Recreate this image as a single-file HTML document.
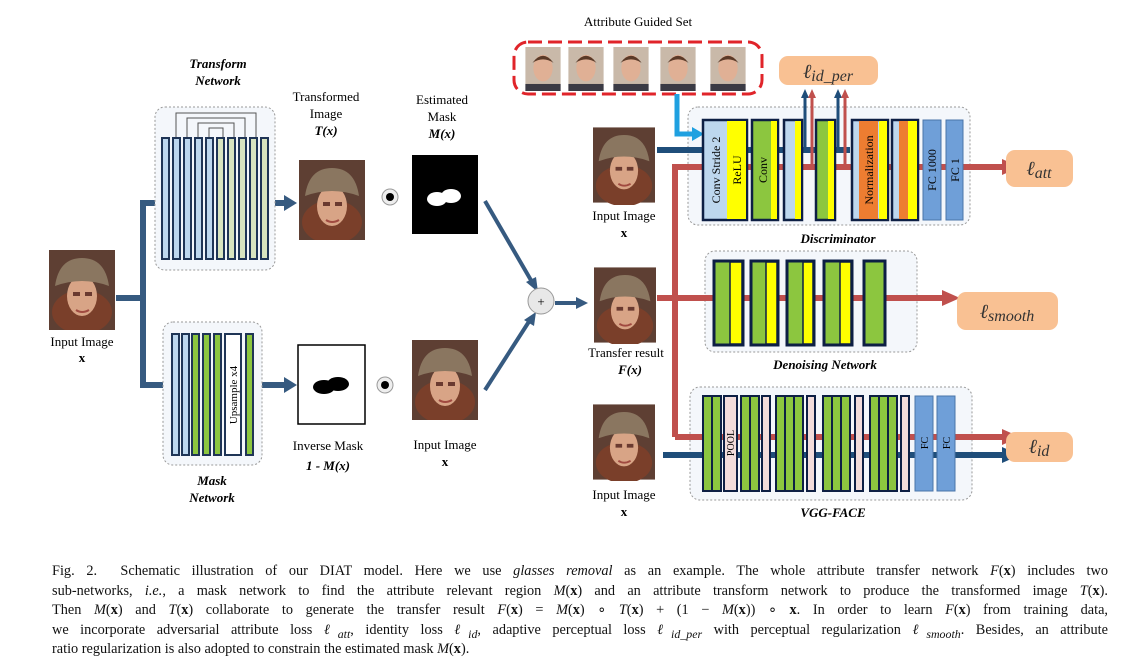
<!DOCTYPE html>
<html><head><meta charset="utf-8"><style>
body{margin:0;background:#fff;width:1142px;height:666px;overflow:hidden;font-family:"Liberation Serif",serif;}
.cap{position:absolute;left:52px;width:1056px;font-size:14.3px;color:#111;text-align:justify;text-align-last:justify;white-space:nowrap;}
.cap.last{text-align-last:left;}
svg text{font-family:"Liberation Serif",serif;}
</style></head><body>
<svg width="1142" height="560" style="position:absolute;left:0;top:0" xmlns="http://www.w3.org/2000/svg">
<defs>
<symbol id="face" viewBox="0 0 66 80">
<rect width="66" height="80" fill="#5e3f33"/>
<ellipse cx="33" cy="62" rx="30" ry="22" fill="#7a3f2a"/>
<ellipse cx="33" cy="46" rx="15" ry="20" fill="#d8a486"/>
<path d="M6 36 Q10 8 33 8 Q56 8 60 36 Q33 26 6 36Z" fill="#8a7660"/>
<rect x="24" y="42" width="7" height="4" fill="#6a3a30"/><rect x="36" y="42" width="7" height="4" fill="#6a3a30"/>
<path d="M27 60 Q33 64 40 60" stroke="#a04a40" stroke-width="2" fill="none"/>
</symbol>
<symbol id="p" viewBox="0 0 40 50">
<rect width="40" height="50" fill="#c9b9a9"/>
<ellipse cx="20" cy="24" rx="11" ry="15" fill="#e0b095"/>
<path d="M8 18 Q20 2 32 18 Q20 10 8 18Z" fill="#5a3a28"/>
<rect x="0" y="42" width="40" height="8" fill="#3a3a44"/>
</symbol>
<marker id="ab" markerWidth="4" markerHeight="4" refX="2" refY="2" orient="auto" markerUnits="strokeWidth"><path d="M0,0 L4,2 L0,4Z" fill="#365a80"/></marker>
</defs>

<!-- left input -->
<use href="#face" x="48" y="250" width="68" height="80"/>
<text x="82" y="346" font-size="13" text-anchor="middle">Input Image</text>
<text x="82" y="362" font-size="13" font-weight="bold" text-anchor="middle">x</text>

<!-- trunk -->
<g stroke="#365a80" stroke-width="6" fill="none">
<path d="M116 298 H143 M143 200 V388 M143 203 H285 M143 385 H285"/>
</g>
<path d="M284 195 L297 203 L284 211Z" fill="#365a80"/>
<path d="M284 377 L297 385 L284 393Z" fill="#365a80"/>

<!-- transform network -->
<text x="218" y="68" font-size="13" font-weight="bold" font-style="italic" text-anchor="middle">Transform</text>
<text x="218" y="85" font-size="13" font-weight="bold" font-style="italic" text-anchor="middle">Network</text>
<rect x="155" y="107" width="120" height="163" rx="10" fill="#f4f7fb" stroke="#999" stroke-dasharray="2,2"/>
<g stroke="#555" fill="none" stroke-width="1">
<path d="M176 138 V113 H256 V138 M187 138 V118 H245 V138 M198 138 V123 H234 V138 M209 138 V128 H223 V138"/>
</g>
<g stroke="#1f3556" stroke-width="2">
<rect x="162" y="138" width="7" height="121" fill="#bdd7ee"/>
<rect x="173" y="138" width="7" height="121" fill="#bdd7ee"/>
<rect x="184" y="138" width="7" height="121" fill="#bdd7ee"/>
<rect x="195" y="138" width="7" height="121" fill="#bdd7ee"/>
<rect x="206" y="138" width="7" height="121" fill="#bdd7ee"/>
<rect x="217" y="138" width="7" height="121" fill="#d8e4bf"/>
<rect x="228" y="138" width="7" height="121" fill="#d8e4bf"/>
<rect x="239" y="138" width="7" height="121" fill="#d8e4bf"/>
<rect x="250" y="138" width="7" height="121" fill="#d8e4bf"/>
<rect x="261" y="138" width="7" height="121" fill="#d8e4bf"/>
</g>

<!-- mask network -->
<rect x="163" y="322" width="99" height="143" rx="10" fill="#f4f7fb" stroke="#999" stroke-dasharray="2,2"/>
<g stroke="#1f3556" stroke-width="2">
<rect x="172" y="334" width="7" height="121" fill="#bdd7ee"/>
<rect x="182" y="334" width="7" height="121" fill="#bdd7ee"/>
<rect x="192" y="334" width="7" height="121" fill="#8cc63f"/>
<rect x="203" y="334" width="7" height="121" fill="#8cc63f"/>
<rect x="214" y="334" width="7" height="121" fill="#8cc63f"/>
<rect x="225" y="334" width="16" height="121" fill="#fff"/>
<rect x="246" y="334" width="7" height="121" fill="#8cc63f"/>
</g>
<text transform="translate(237,395) rotate(-90)" font-size="11" text-anchor="middle">Upsample x4</text>
<text x="212" y="485" font-size="13" font-weight="bold" font-style="italic" text-anchor="middle">Mask</text>
<text x="212" y="502" font-size="13" font-weight="bold" font-style="italic" text-anchor="middle">Network</text>

<!-- transformed image -->
<text x="326" y="101" font-size="13" text-anchor="middle">Transformed</text>
<text x="326" y="118" font-size="13" text-anchor="middle">Image</text>
<text x="326" y="135" font-size="13" font-weight="bold" font-style="italic" text-anchor="middle">T(x)</text>
<use href="#face" x="298" y="160" width="68" height="80"/>
<circle cx="390" cy="197" r="8" fill="#eee" stroke="#999"/><circle cx="390" cy="197" r="4" fill="#000"/>
<text x="442" y="104" font-size="13" text-anchor="middle">Estimated</text>
<text x="442" y="121" font-size="13" text-anchor="middle">Mask</text>
<text x="442" y="138" font-size="13" font-weight="bold" font-style="italic" text-anchor="middle">M(x)</text>
<rect x="412" y="155" width="66" height="79" fill="#000"/>
<ellipse cx="437" cy="199" rx="10" ry="7" fill="#fff"/><ellipse cx="451" cy="196" rx="10" ry="7" fill="#fff"/>

<!-- inverse mask -->
<rect x="298" y="345" width="67" height="79" fill="#fff" stroke="#000" stroke-width="1.5"/>
<ellipse cx="324" cy="387" rx="11" ry="7" fill="#000"/><ellipse cx="338" cy="384" rx="11" ry="7" fill="#000"/>
<text x="328" y="450" font-size="13" text-anchor="middle">Inverse Mask</text>
<text x="328" y="470" font-size="13" font-weight="bold" font-style="italic" text-anchor="middle">1 - M(x)</text>
<circle cx="385" cy="385" r="8" fill="#eee" stroke="#999"/><circle cx="385" cy="385" r="4" fill="#000"/>
<use href="#face" x="412" y="340" width="66" height="80"/>
<text x="445" y="449" font-size="13" text-anchor="middle">Input Image</text>
<text x="445" y="466" font-size="13" font-weight="bold" text-anchor="middle">x</text>

<!-- to plus -->
<g stroke="#365a80" stroke-width="4">
<line x1="485" y1="201" x2="532" y2="282"/>
<line x1="485" y1="390" x2="530" y2="320"/>
<line x1="555" y1="303" x2="578" y2="303"/>
</g>
<path d="M526 282 L538 292 L536 277Z" fill="#365a80"/>
<path d="M524 320 L536 312 L534 326Z" fill="#365a80"/>
<path d="M576 297 L588 303 L576 309Z" fill="#365a80"/>
<circle cx="541" cy="301" r="13" fill="#e8e8e8" stroke="#999"/>
<text x="541" y="306" font-size="13" text-anchor="middle">+</text>

<!-- right column images -->
<use href="#face" x="593" y="125" width="62" height="80"/>
<text x="624" y="220" font-size="13" text-anchor="middle">Input Image</text>
<text x="624" y="237" font-size="13" font-weight="bold" text-anchor="middle">x</text>
<use href="#face" x="594" y="266" width="62" height="78"/>
<text x="626" y="357" font-size="13" text-anchor="middle">Transfer result</text>
<text x="630" y="374" font-size="13" font-weight="bold" font-style="italic" text-anchor="middle">F(x)</text>
<use href="#face" x="593" y="403" width="62" height="78"/>
<text x="624" y="499" font-size="13" text-anchor="middle">Input Image</text>
<text x="624" y="516" font-size="13" font-weight="bold" text-anchor="middle">x</text>

<!-- attribute guided set -->
<text x="638" y="26" font-size="13" text-anchor="middle">Attribute Guided Set</text>
<rect x="514" y="42" width="248" height="52" rx="14" fill="#fff" stroke="#e0242a" stroke-width="3" stroke-dasharray="14,6"/>
<use href="#p" x="520" y="47" width="46" height="44"/>
<use href="#p" x="567" y="47" width="38" height="44"/>
<use href="#p" x="612" y="47" width="38" height="44"/>
<use href="#p" x="657" y="47" width="42" height="44"/>
<use href="#p" x="706" y="47" width="44" height="44"/>

<!-- boxes -->
<rect x="688" y="107" width="282" height="118" rx="10" fill="#f4f7fb" stroke="#999" stroke-dasharray="2,2"/>
<rect x="705" y="251" width="212" height="101" rx="10" fill="#f4f7fb" stroke="#999" stroke-dasharray="2,2"/>
<rect x="690" y="387" width="282" height="113" rx="10" fill="#f4f7fb" stroke="#999" stroke-dasharray="2,2"/>

<!-- lines behind blocks -->
<g stroke-width="6" fill="none">
<path d="M657 150 H850" stroke="#1f4e7a"/>
<path d="M675 437 V167 H1005" stroke="#c0504d"/>
<path d="M657 298 H945" stroke="#c0504d"/>
<path d="M675 437 H1005" stroke="#c0504d"/>
<path d="M663 455 H1005" stroke="#1f4e7a"/>
</g>
<path d="M1002 159 L1020 167 L1002 175Z" fill="#c0504d"/>
<path d="M942 290 L960 298 L942 306Z" fill="#c0504d"/>
<path d="M1002 429 L1020 437 L1002 445Z" fill="#c0504d"/>
<path d="M1002 447 L1020 455 L1002 463Z" fill="#1f4e7a"/>
<!-- cyan arrow -->
<path d="M677 94 V134 H693" stroke="#1fa0e0" stroke-width="5" fill="none"/>
<path d="M692 127 L704 134 L692 141Z" fill="#1fa0e0"/>
<!-- up arrows -->
<g stroke-width="3">
<line x1="805" y1="150" x2="805" y2="96" stroke="#1f4e7a"/>
<line x1="812" y1="167" x2="812" y2="96" stroke="#c0504d"/>
<line x1="838" y1="150" x2="838" y2="96" stroke="#1f4e7a"/>
<line x1="845" y1="167" x2="845" y2="96" stroke="#c0504d"/>
</g>
<path d="M801 98 L805 89 L809 98Z M834 98 L838 89 L842 98Z" fill="#1f4e7a"/>
<path d="M808 98 L812 89 L816 98Z M841 98 L845 89 L849 98Z" fill="#c0504d"/>

<!-- discriminator blocks -->
<g stroke="#0d1f44" stroke-width="2.5">
<rect x="703" y="120" width="44" height="100" fill="#bdd7ee"/>
<rect x="727" y="121" width="19" height="98" fill="#ffff00" stroke="none"/>
<rect x="752" y="120" width="26" height="100" fill="#8cc63f"/>
<rect x="771" y="121" width="6" height="98" fill="#ffff00" stroke="none"/>
<rect x="784" y="120" width="18" height="100" fill="#bdd7ee"/>
<rect x="795" y="121" width="6" height="98" fill="#ffff00" stroke="none"/>
<rect x="816" y="120" width="19" height="100" fill="#8cc63f"/>
<rect x="828" y="121" width="6" height="98" fill="#ffff00" stroke="none"/>
<rect x="852" y="120" width="36" height="100" fill="#bdd7ee"/>
<rect x="859" y="121" width="19" height="98" fill="#ed7d31" stroke="none"/>
<rect x="879" y="121" width="8" height="98" fill="#ffff00" stroke="none"/>
<rect x="892" y="120" width="26" height="100" fill="#bdd7ee"/>
<rect x="899" y="121" width="9" height="98" fill="#ed7d31" stroke="none"/>
<rect x="908" y="121" width="9" height="98" fill="#ffff00" stroke="none"/>
</g>
<rect x="923" y="120" width="18" height="100" fill="#6f9fd8" stroke="#4a74a8"/>
<rect x="946" y="120" width="17" height="100" fill="#6f9fd8" stroke="#4a74a8"/>
<g font-size="12">
<text transform="translate(720,170) rotate(-90)" text-anchor="middle">Conv Stride 2</text>
<text transform="translate(741,170) rotate(-90)" text-anchor="middle">ReLU</text>
<text transform="translate(767,170) rotate(-90)" text-anchor="middle">Conv</text>
<text transform="translate(873,170) rotate(-90)" text-anchor="middle">Normalization</text>
<text transform="translate(936,170) rotate(-90)" text-anchor="middle">FC 1000</text>
<text transform="translate(959,170) rotate(-90)" text-anchor="middle">FC 1</text>
</g>
<text x="838" y="243" font-size="13" font-weight="bold" font-style="italic" text-anchor="middle">Discriminator</text>

<!-- denoising -->
<g stroke="#0d1f44" stroke-width="3">
<rect x="714" y="261" width="29" height="84" fill="#8cc63f"/>
<rect x="751" y="261" width="27" height="84" fill="#8cc63f"/>
<rect x="787" y="261" width="27" height="84" fill="#8cc63f"/>
<rect x="824" y="261" width="28" height="84" fill="#8cc63f"/>
<rect x="864" y="261" width="21" height="84" fill="#8cc63f"/>
</g>
<g fill="#ffff00" stroke="#0d1f44" stroke-width="1.5">
<rect x="730" y="262" width="12" height="82"/>
<rect x="766" y="262" width="11" height="82"/>
<rect x="803" y="262" width="10" height="82"/>
<rect x="840" y="262" width="11" height="82"/>
</g>
<text x="825" y="369" font-size="13" font-weight="bold" font-style="italic" text-anchor="middle">Denoising Network</text>

<!-- VGG -->
<g stroke="#0d1f44" stroke-width="2">
<rect x="703" y="396" width="9" height="95" fill="#8cc63f"/>
<rect x="712" y="396" width="9" height="95" fill="#8cc63f"/>
<rect x="724" y="396" width="13" height="95" fill="#f2dcdb"/>
<rect x="741" y="396" width="9" height="95" fill="#8cc63f"/>
<rect x="750" y="396" width="9" height="95" fill="#8cc63f"/>
<rect x="762" y="396" width="8" height="95" fill="#f2dcdb"/>
<rect x="776" y="396" width="9" height="95" fill="#8cc63f"/>
<rect x="785" y="396" width="9" height="95" fill="#8cc63f"/>
<rect x="794" y="396" width="9" height="95" fill="#8cc63f"/>
<rect x="807" y="396" width="8" height="95" fill="#f2dcdb"/>
<rect x="823" y="396" width="9" height="95" fill="#8cc63f"/>
<rect x="832" y="396" width="9" height="95" fill="#8cc63f"/>
<rect x="841" y="396" width="9" height="95" fill="#8cc63f"/>
<rect x="855" y="396" width="8" height="95" fill="#f2dcdb"/>
<rect x="870" y="396" width="9" height="95" fill="#8cc63f"/>
<rect x="879" y="396" width="9" height="95" fill="#8cc63f"/>
<rect x="888" y="396" width="9" height="95" fill="#8cc63f"/>
<rect x="901" y="396" width="8" height="95" fill="#f2dcdb"/>
</g>
<rect x="915" y="396" width="18" height="95" fill="#6f9fd8" stroke="#4a74a8"/>
<rect x="937" y="396" width="18" height="95" fill="#6f9fd8" stroke="#4a74a8"/>
<g font-size="10">
<text transform="translate(734,443) rotate(-90)" text-anchor="middle">POOL</text>
<text transform="translate(928,443) rotate(-90)" text-anchor="middle">FC</text>
<text transform="translate(950,443) rotate(-90)" text-anchor="middle">FC</text>
</g>
<text x="833" y="517" font-size="13" font-weight="bold" font-style="italic" text-anchor="middle">VGG-FACE</text>

<!-- losses -->
<g fill="#f9c193">
<rect x="779" y="56" width="99" height="29" rx="9"/>
<rect x="1006" y="150" width="67" height="37" rx="9"/>
<rect x="957" y="292" width="101" height="38" rx="9"/>
<rect x="1006" y="432" width="67" height="30" rx="9"/>
</g>
<g font-size="20" font-style="italic" fill="#333">
<text x="828" y="78" text-anchor="middle">ℓ<tspan font-size="16" dy="3">id_per</tspan></text>
<text x="1039" y="175" text-anchor="middle">ℓ<tspan font-size="16" dy="3">att</tspan></text>
<text x="1007" y="318" text-anchor="middle">ℓ<tspan font-size="16" dy="3">smooth</tspan></text>
<text x="1039" y="453" text-anchor="middle">ℓ<tspan font-size="16" dy="3">id</tspan></text>
</g>
</svg>

<div class="cap" style="top:563px">Fig. 2.&nbsp; Schematic illustration of our DIAT model. Here we use <i>glasses removal</i> as an example. The whole attribute transfer network <i>F</i>(<b>x</b>) includes two</div>
<div class="cap" style="top:583px">sub-networks, <i>i.e.</i>, a mask network to find the attribute relevant region <i>M</i>(<b>x</b>) and an attribute transform network to produce the transformed image <i>T</i>(<b>x</b>).</div>
<div class="cap" style="top:602px">Then <i>M</i>(<b>x</b>) and <i>T</i>(<b>x</b>) collaborate to generate the transfer result <i>F</i>(<b>x</b>) = <i>M</i>(<b>x</b>) ∘ <i>T</i>(<b>x</b>) + (1 − <i>M</i>(<b>x</b>)) ∘ <b>x</b>. In order to learn <i>F</i>(<b>x</b>) from training data,</div>
<div class="cap" style="top:622px">we incorporate adversarial attribute loss <i>ℓ<sub>att</sub></i>, identity loss <i>ℓ<sub>id</sub></i>, adaptive perceptual loss <i>ℓ<sub>id_per</sub></i> with perceptual regularization <i>ℓ<sub>smooth</sub></i>. Besides, an attribute</div>
<div class="cap last" style="top:641px">ratio regularization is also adopted to constrain the estimated mask <i>M</i>(<b>x</b>).</div>
</body></html>
